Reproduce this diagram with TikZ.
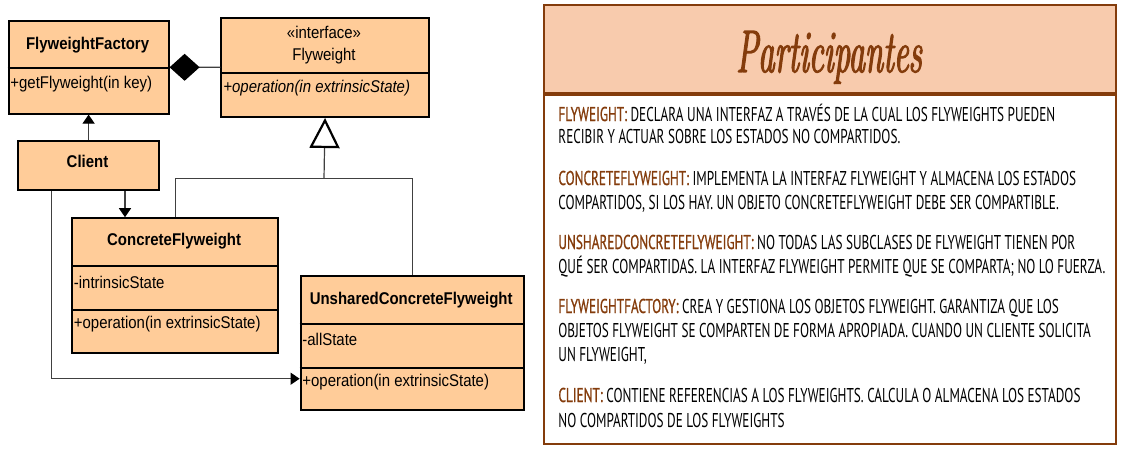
\documentclass[tikz,border=0pt]{standalone}
\usepackage{fontspec}
\usepackage{graphicx}
\usetikzlibrary{arrows.meta}
\newfontfamily\umlfont[FakeStretch=0.88]{Liberation Sans}
\newfontfamily\handfont[FakeStretch=0.66]{PT Sans}
\newfontfamily\handlabfont[FakeStretch=0.66,FakeBold=0.8]{PT Sans}
\newfontfamily\titlefont[FakeStretch=0.55,FakeBold=2]{Latin Modern Roman}
\definecolor{clsfill}{HTML}{FFCC99}
\definecolor{brownline}{HTML}{843C0C}
\definecolor{brownlab}{HTML}{843C0C}
\definecolor{headfill}{HTML}{F8CBAD}
\definecolor{connc}{HTML}{404040}
\newcommand{\lab}[1]{{\handlabfont\textcolor{brownlab}{#1}}}
\tikzset{
  clsbox/.style={draw=black, fill=clsfill, line width=1pt, inner sep=0pt, anchor=north west},
  divline/.style={draw=black, line width=1pt},
  clstitle/.style={font=\umlfont\fontsize{8.5}{10}\selectfont\bfseries, inner sep=0pt},
  clsplain/.style={font=\umlfont\fontsize{8.5}{10}\selectfont, inner sep=0pt},
  member/.style={font=\umlfont\fontsize{8.5}{10}\selectfont, inner sep=0pt, anchor=west},
  conn/.style={draw=connc, line width=0.6pt},
  filledtip/.style={-{Triangle[length=4.5pt,width=6pt,color=black]}},
  inhtip/.style={-{Triangle[open,length=15pt,width=15pt,line width=1.1pt,color=black]}},
  comptip/.style={{Diamond[length=15pt,width=13.5pt,color=black]}-},
  hand/.style={font=\handfont\fontsize{10}{12}\selectfont, inner sep=0pt, anchor=base west},
}
\begin{document}
\begin{tikzpicture}[x=0.5pt,y=-0.5pt]
\useasboundingbox (0,0) rectangle (1136,457);
% ---------------- left: class diagram ----------------
% FlyweightFactory
\node[clsbox, minimum width=80pt, minimum height=46.3pt] (ff) at (7.6,20) {};
\draw[divline] (7.6,68.2) -- (167.6,68.2);
\node[clstitle] (fft) at (87.6,44.8) {FlyweightFactory};
\node[member] (ffm) at (10,84.4) {+getFlyweight(in key)};
% Flyweight
\node[clsbox, minimum width=103.65pt, minimum height=49.75pt] (fw) at (220.4,16.5) {};
\draw[divline] (220.4,73.3) -- (427.7,73.3);
\node[clsplain] (fwi) at (324,32.7) {«interface»};
\node[clsplain] (fwt) at (324,56) {Flyweight};
\node[member, font=\umlfont\fontsize{8.5}{10}\selectfont\itshape] (fwm) at (223,87.8) {+operation(in extrinsicState)};
% Client
\node[clsbox, minimum width=70.55pt, minimum height=24.75pt] (cl) at (16.9,139.5) {};
\node[clstitle] (clt) at (87.5,161.8) {Client};
% ConcreteFlyweight
\node[clsbox, minimum width=102.8pt, minimum height=67.35pt] (cf) at (71.3,217.2) {};
\draw[divline] (71.3,265.8) -- (276.9,265.8);
\draw[divline] (71.3,309.5) -- (276.9,309.5);
\node[clstitle] (cft) at (174.1,241.3) {ConcreteFlyweight};
\node[member] (cfa) at (73.5,282) {-intrinsicState};
\node[member] (cfm) at (73.5,324) {+operation(in extrinsicState)};
% UnsharedConcreteFlyweight
\node[clsbox, minimum width=111.55pt, minimum height=67.35pt] (uc) at (299.6,274.7) {};
\draw[divline] (299.6,324) -- (522.7,324);
\draw[divline] (299.6,367.7) -- (522.7,367.7);
\node[clstitle] (uct) at (411.2,299.9) {UnsharedConcreteFlyweight};
\node[member] (uca) at (302,339.5) {-allState};
\node[member] (ucm) at (302,382.5) {+operation(in extrinsicState)};
% connectors
\draw[conn, comptip] (ff.east) -- (fw.west);
\coordinate (j) at (324,178.7);
\draw[conn] (cf.north) |- (j) -| (uc.north);
\draw[conn, inhtip] (j) -- (fw.south);
\draw[conn, filledtip] (cl.north -| ff.south) -- (ff.south);
\draw[conn, filledtip] ([xshift=-17.5pt]cl.south east) -- ([xshift=-17.5pt]cl.south east |- cf.north);
\draw[conn, filledtip] ([xshift=17.4pt]cl.south west) |- ([yshift=16.35pt]uc.south west);
% ---------------- right: participants panel ----------------
\node[draw=brownline, line width=1pt, fill=headfill, inner sep=0pt, anchor=north west, minimum width=286pt, minimum height=43.75pt] (head) at (543,4) {};
\node[draw=brownline, line width=1pt, inner sep=0pt, anchor=north west, minimum width=286pt, minimum height=219.5pt] (panel) at (543,4) {};
\draw[brownline, line width=2pt] (head.south west) -- (head.south east);
\node[font=\titlefont\fontsize{30}{33}\selectfont\itshape, text=brownline, inner sep=0pt, anchor=base] (title) at (829,72) {Participantes};
\node[hand] (l1) at (558,121) {\lab{FLYWEIGHT:} DECLARA UNA INTERFAZ A TRAVÉS DE LA CUAL LOS FLYWEIGHTS PUEDEN};
\node[hand] (l2) at (558,143) {RECIBIR Y ACTUAR SOBRE LOS ESTADOS NO COMPARTIDOS.};
\node[hand] (l3) at (558,185) {\lab{CONCRETEFLYWEIGHT:} IMPLEMENTA LA INTERFAZ FLYWEIGHT Y ALMACENA LOS ESTADOS};
\node[hand] (l4) at (558,209) {COMPARTIDOS, SI LOS HAY. UN OBJETO CONCRETEFLYWEIGHT DEBE SER COMPARTIBLE.};
\node[hand] (l5) at (558,249) {\lab{UNSHAREDCONCRETEFLYWEIGHT:} NO TODAS LAS SUBCLASES DE FLYWEIGHT TIENEN POR};
\node[hand] (l6) at (558,273) {QUÉ SER COMPARTIDAS. LA INTERFAZ FLYWEIGHT PERMITE QUE SE COMPARTA; NO LO FUERZA.};
\node[hand] (l7) at (558,313) {\lab{FLYWEIGHTFACTORY:} CREA Y GESTIONA LOS OBJETOS FLYWEIGHT. GARANTIZA QUE LOS};
\node[hand] (l8) at (558,337) {OBJETOS FLYWEIGHT SE COMPARTEN DE FORMA APROPIADA. CUANDO UN CLIENTE SOLICITA};
\node[hand] (l9) at (558,361) {UN FLYWEIGHT,};
\node[hand] (l10) at (558,402) {\lab{CLIENT:} CONTIENE REFERENCIAS A LOS FLYWEIGHTS. CALCULA O ALMACENA LOS ESTADOS};
\node[hand] (l11) at (558,427) {NO COMPARTIDOS DE LOS FLYWEIGHTS};
\end{tikzpicture}
\end{document}
